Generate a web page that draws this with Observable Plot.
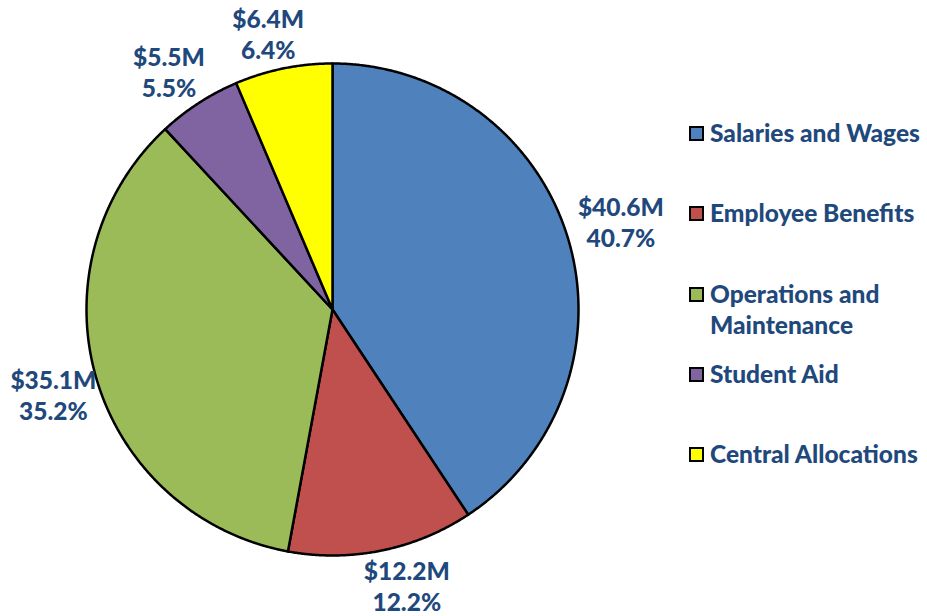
<!DOCTYPE html>
<html>
<head>
<meta charset="utf-8">
<script src="https://cdn.jsdelivr.net/npm/d3@7"></script>
<script src="https://cdn.jsdelivr.net/npm/@observablehq/plot@0.6"></script>
<style>
  html, body { margin: 0; padding: 0; background: #fff; }
  #wrap { position: relative; width: 927px; height: 616px; font-family: Lato, "Open Sans", sans-serif; }
  #legend { position: absolute; left: 689px; top: 0; width: 238px; color: #1F497D; font-weight: 900; font-size: 24.5px; }
  .item { position: absolute; left: 0; display: flex; align-items: flex-start; line-height: 31px; white-space: nowrap; }
  .sw { width: 11px; height: 11px; border: 2px solid #000; margin-right: 6px; margin-top: 9px; flex: none; }
</style>
</head>
<body>
<div id="wrap">
  <div id="chart"></div>
  <div id="legend"></div>
</div>
<script>
const categories = ["Salaries and Wages", "Employee Benefits", "Operations and Maintenance", "Student Aid", "Central Allocations"];
const legendLines = [["Salaries and Wages"], ["Employee Benefits"], ["Operations and", "Maintenance"], ["Student Aid"], ["Central Allocations"]];
const amounts = [40.6, 12.2, 35.1, 5.5, 6.4];          // $ millions
const percents = [40.7, 12.2, 35.2, 5.5, 6.4];         // share shown in labels
const colors = ["#4F81BD", "#C0504D", "#9BBB59", "#8064A2", "#FFFF00"];

const R = 246; // pixel radius, used only to express label offsets in unit coordinates
const pie = d3.pie().sort(null).value(d => d.value)(categories.map((c, i) => ({name: c, value: percents[i]})));

// slice outlines (unit circle coordinates, clockwise from top)
const slicePts = [];
pie.forEach(s => {
  const n = Math.max(2, Math.ceil((s.endAngle - s.startAngle) / 0.005));
  slicePts.push({name: s.data.name, x: 0, y: 0});
  for (let k = 0; k <= n; k++) {
    const a = s.startAngle + (s.endAngle - s.startAngle) * k / n;
    slicePts.push({name: s.data.name, x: Math.sin(a), y: Math.cos(a)});
  }
  slicePts.push({name: s.data.name, x: 0, y: 0});
});

// label positions: just outside the arc at mid-angle, pushed out by part of the label box
const labels = pie.map((s, i) => {
  const a = (s.startAngle + s.endAngle) / 2;
  const sx = Math.sin(a), cy = Math.cos(a);
  const gap = 7, hw = 42, hh = 28, nudge = 5;
  return {
    x: ((R + gap) * sx + hw * Math.sign(sx) * Math.sqrt(Math.abs(sx)) + nudge) / R,
    y: ((R + gap) * cy + hh * Math.sign(cy) * Math.sqrt(Math.abs(cy))) / R,
    text: `$${amounts[i].toFixed(1)}M\n${percents[i].toFixed(1)}%`
  };
});

const chart = Plot.plot({
  width: 927,
  height: 616,
  margin: 0,
  x: {domain: [-1, 1], range: [86, 578], axis: null},
  y: {domain: [-1, 1], range: [555, 63], axis: null},
  color: {domain: categories, range: colors},
  style: {background: "white", fontFamily: "Lato, 'Open Sans', sans-serif"},
  marks: [
    Plot.line(slicePts, {x: "x", y: "y", z: "name", fill: "name", stroke: "#000", strokeWidth: 2.5, strokeLinejoin: "round", curve: "linear"}),
    Plot.text(labels, {x: "x", y: "y", text: "text", fill: "#1F497D", fontWeight: 900, fontSize: 24.5, lineHeight: 1.27})
  ]
});
document.getElementById("chart").appendChild(chart);

// legend
const tops = [117, 197, 278, 358, 438];
const leg = document.getElementById("legend");
categories.forEach((c, i) => {
  const item = document.createElement("div");
  item.className = "item";
  item.style.top = tops[i] + "px";
  const sw = document.createElement("div");
  sw.className = "sw";
  sw.style.background = colors[i];
  const t = document.createElement("div");
  t.innerHTML = legendLines[i].join("<br>");
  item.appendChild(sw);
  item.appendChild(t);
  leg.appendChild(item);
});
</script>
</body>
</html>
